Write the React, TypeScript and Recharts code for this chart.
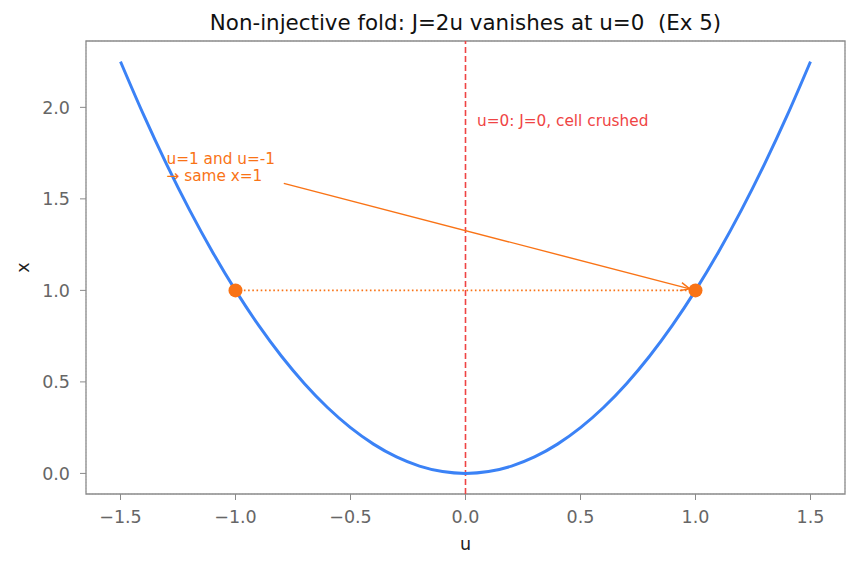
import React from 'react';
import {
  ComposedChart,
  Line,
  Scatter,
  XAxis,
  YAxis,
  CartesianGrid,
  ReferenceLine,
  ReferenceDot,
  ReferenceArea,
} from 'recharts';

// fold map x = u^2, sampled along u
const uValues = [
  -1.5, -1.4, -1.3, -1.2, -1.1, -1.0, -0.9, -0.8, -0.7, -0.6, -0.5, -0.4, -0.3, -0.2, -0.1, 0,
  0.1, 0.2, 0.3, 0.4, 0.5, 0.6, 0.7, 0.8, 0.9, 1.0, 1.1, 1.2, 1.3, 1.4, 1.5,
];
const xValues = [
  2.25, 1.96, 1.69, 1.44, 1.21, 1.0, 0.81, 0.64, 0.49, 0.36, 0.25, 0.16, 0.09, 0.04, 0.01, 0,
  0.01, 0.04, 0.09, 0.16, 0.25, 0.36, 0.49, 0.64, 0.81, 1.0, 1.21, 1.44, 1.69, 1.96, 2.25,
];

// the two preimages of x=1
const pairU = [-1, 1];
const pairX = [1, 1];

const uTicks = [-1.5, -1.0, -0.5, 0, 0.5, 1.0, 1.5];
const xTicks = [0, 0.5, 1.0, 1.5, 2.0];

const U_DOMAIN: [number, number] = [-1.65, 1.65];
const X_DOMAIN: [number, number] = [-0.1125, 2.3625];

const curve = uValues.map((u, i) => ({ u, x: xValues[i] }));
const pair = pairU.map((u, i) => ({ u, x: pairX[i] }));

const FONT = '"DejaVu Sans", sans-serif';
const BLUE = '#3b82f6';
const ORANGE = '#f97316';
const RED = '#ef4444';
const SPINE = '#8a8a8a';
const TICK_TEXT = '#666666';
const TICK_FS = 17.5;
const NOTE_FS = 15.3;

const fmt = (v: number) => v.toFixed(1).replace('-', '\u2212');

// open "->" arrow drawn between the segment ends
function ArrowShape(props: any) {
  const { x1, y1, x2, y2 } = props;
  const ang = Math.atan2(y2 - y1, x2 - x1);
  const len = 10;
  const spread = 0.42;
  const ax = x2 - len * Math.cos(ang - spread);
  const ay = y2 - len * Math.sin(ang - spread);
  const bx = x2 - len * Math.cos(ang + spread);
  const by = y2 - len * Math.sin(ang + spread);
  return (
    <g stroke={ORANGE} strokeWidth={1.4} fill="none">
      <line x1={x1} y1={y1} x2={x2} y2={y2} />
      <polyline points={`${ax},${ay} ${x2},${y2} ${bx},${by}`} />
    </g>
  );
}

function CrushedNote(props: any) {
  return (
    <text x={props.cx} y={props.cy} fill={RED} fontSize={NOTE_FS} fontFamily={FONT}>
      u=0: J=0, cell crushed
    </text>
  );
}

function PairNote(props: any) {
  return (
    <text x={props.cx} y={props.cy} fill={ORANGE} fontSize={NOTE_FS} fontFamily={FONT}>
      <tspan x={props.cx} dy={-17}>u=1 and u=-1</tspan>
      <tspan x={props.cx} dy={17}>{'\u2192 same x=1'}</tspan>
    </text>
  );
}

function Dot(props: any) {
  return <circle cx={props.cx} cy={props.cy} r={7} fill={ORANGE} />;
}

export default function App() {
  return (
    <div style={{ position: 'absolute', left: 0, top: 0, width: 859, height: 567, background: '#fff' }}>
      <svg width={859} height={40} style={{ position: 'absolute', left: 0, top: 0 }}>
        <text
          x={465.5}
          y={30}
          textAnchor="middle"
          fontFamily={FONT}
          fontSize={21.4}
          fill="#111"
          style={{ whiteSpace: 'pre' }}
        >
          Non-injective fold: J=2u vanishes at u=0  (Ex 5)
        </text>
      </svg>
      <ComposedChart width={859} height={567} margin={{ top: 41, right: 14, bottom: 23, left: 16 }}>
        <CartesianGrid stroke="#d6d6d6" strokeDasharray="1 2" strokeWidth={0.8} />
        <XAxis
          xAxisId="b"
          type="number"
          dataKey="u"
          domain={U_DOMAIN}
          allowDataOverflow
          ticks={uTicks}
          tickFormatter={fmt}
          height={50}
          axisLine={false}
          tickLine={{ stroke: SPINE }}
          tickSize={6}
          tickMargin={11}
          tick={{ fill: TICK_TEXT, fontSize: TICK_FS, fontFamily: FONT }}
          label={{
            content: (p: any) => (
              <text
                x={p.viewBox.x + p.viewBox.width / 2}
                y={p.viewBox.y + 56}
                textAnchor="middle"
                fontSize={TICK_FS}
                fontFamily={FONT}
                fill="#222"
              >
                u
              </text>
            ),
          }}
        />
        <YAxis
          yAxisId="l"
          type="number"
          domain={X_DOMAIN}
          allowDataOverflow
          ticks={xTicks}
          tickFormatter={(v: number) => v.toFixed(1)}
          width={70}
          axisLine={false}
          tickLine={{ stroke: SPINE }}
          tickSize={6}
          tickMargin={10}
          tick={{ fill: TICK_TEXT, fontSize: TICK_FS, fontFamily: FONT }}
          label={{
            content: (p: any) => {
              const cy = p.viewBox.y + p.viewBox.height / 2;
              return (
                <text
                  x={23}
                  y={cy}
                  textAnchor="middle"
                  dominantBaseline="central"
                  fontSize={TICK_FS}
                  fontFamily={FONT}
                  fill="#222"
                  transform={`rotate(-90 23 ${cy})`}
                >
                  x
                </text>
              );
            },
          }}
        />

        {/* axes frame */}
        <ReferenceArea
          xAxisId="b"
          yAxisId="l"
          x1={U_DOMAIN[0]}
          x2={U_DOMAIN[1]}
          y1={X_DOMAIN[0]}
          y2={X_DOMAIN[1]}
          fill="none"
          fillOpacity={0}
          stroke={SPINE}
          strokeWidth={1.3}
        />

        <ReferenceLine xAxisId="b" yAxisId="l" x={0} stroke={RED} strokeWidth={1.6} strokeDasharray="6 3" />

        <Line
          xAxisId="b"
          yAxisId="l"
          data={curve}
          dataKey="x"
          type="monotone"
          stroke={BLUE}
          strokeWidth={3}
          dot={false}
          isAnimationActive={false}
        />
        <Line
          xAxisId="b"
          yAxisId="l"
          data={pair}
          dataKey="x"
          type="linear"
          stroke={ORANGE}
          strokeWidth={1.6}
          strokeDasharray="1.6 2.6"
          dot={false}
          isAnimationActive={false}
        />
        <ReferenceLine
          xAxisId="b"
          yAxisId="l"
          segment={[{ x: -0.79, y: 1.585 }, { x: 0.975, y: 1.008 }]}
          shape={ArrowShape}
        />
        <Scatter xAxisId="b" yAxisId="l" data={pair} dataKey="x" shape={Dot} isAnimationActive={false} />

        <ReferenceDot xAxisId="b" yAxisId="l" x={0.05} y={1.9} r={1} shape={CrushedNote} />
        <ReferenceDot xAxisId="b" yAxisId="l" x={-1.3} y={1.6} r={1} shape={PairNote} />
      </ComposedChart>
    </div>
  );
}
